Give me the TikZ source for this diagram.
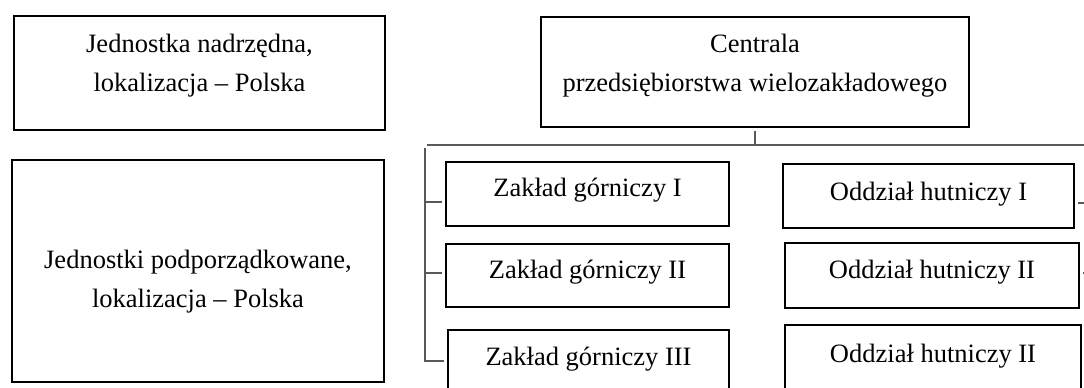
\documentclass[tikz,border=0pt]{standalone}
\usepackage{fontspec}
\setmainfont{Liberation Serif}
\begin{document}
\begin{tikzpicture}[x=1pt, y=-1pt,
        unit/.style={rectangle,draw,line width=2pt,black,inner sep=0pt,
      align=center,text height=20pt,font=\fontsize{26.5}{39}\selectfont},
        link/.style={line width=1.3pt,black!65}]
        \useasboundingbox (0,0) rectangle (1084,388);
        \clip (0,0) rectangle (1084,388);

	\node [unit, minimum width=371pt, minimum height=114pt, text height=40pt, text depth=4pt] (nadrz) at (199.5, 73) {Jednostka nadrzędna,\\lokalizacja – Polska};
        \node [unit, minimum width=372pt, minimum height=222pt, text height=80pt, text depth=8pt] (podrz) at (198, 271) {Jednostki podporządkowane,\\lokalizacja – Polska};
        \node [unit, minimum width=428pt, minimum height=110pt, text height=45pt, text depth=6pt] (centr) at (755, 72) {Centrala\\przedsiębiorstwa wielozakładowego};

        \node [unit, minimum width=283pt, minimum height=64pt, text depth=16pt] (zg1) at (587.5, 194) {Zakład górniczy I};
        \node [unit, minimum width=283pt, minimum height=63pt, text depth=15pt] (zg2) at (587.5, 275.5) {Zakład górniczy II};
        \node [unit, minimum width=281pt, minimum height=64pt, text depth=14pt] (zg3) at (588.5, 362) {Zakład górniczy III};

        \node [unit, minimum width=291pt, minimum height=64pt, text depth=12pt] (oh1) at (928.5, 196) {Oddział hutniczy I};
        \node [unit, minimum width=294pt, minimum height=65pt, text depth=15pt] (oh2) at (932, 275.5) {Oddział hutniczy II};
        \node [unit, minimum width=296pt, minimum height=64pt, text depth=10pt] (oh3) at (933, 357) {Oddział hutniczy II};

        \coordinate (topL) at (427, 145);
        \coordinate (topR) at (1090, 145);
        \coordinate (barL) at (425, 148);
        \coordinate (barR) at (1090, 148);

        \draw [link] (topL) -- (topR);
        \draw [link, shorten <=3pt] (centr.south) -- (centr.south |- topL);

        \draw [link] (barL) |- ([xshift=-3pt,yshift=1pt]zg3.west);
        \draw [link] ([xshift=-3pt,yshift=-8pt]zg1.west) -- ([yshift=-8pt]zg1.west -| barL);
        \draw [link] ([xshift=-3pt,yshift=2.5pt]zg2.west) -- ([yshift=2.5pt]zg2.west -| barL);

        \draw [link] ([xshift=3pt,yshift=-7pt]oh1.east) -- ([yshift=-7pt]oh1.east -| barR);
        \draw [link] ([xshift=3pt,yshift=2.5pt]oh2.east) -- ([yshift=2.5pt]oh2.east -| barR);
        \draw [link] ([xshift=3pt,yshift=-3pt]oh3.east) -- ([yshift=-3pt]oh3.east -| barR);
\end{tikzpicture}
\end{document}
